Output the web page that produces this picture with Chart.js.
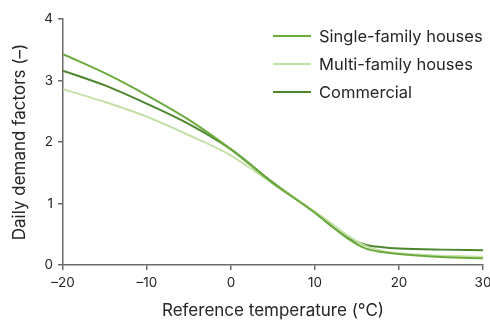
<!DOCTYPE html>
<html>
<head>
<meta charset="utf-8">
<script src="https://cdn.jsdelivr.net/npm/chart.js@4"></script>
<style>
  html, body { margin: 0; padding: 0; background: #fff; overflow: hidden; }
  #wrap { width: 490px; height: 322px; }
</style>
</head>
<body>
<div id="wrap"><canvas id="chart"></canvas></div>
<script>
'use strict';

// reference temperature (°C)
const temps = [-20, -15, -10, -5, 0, 5, 10, 12, 14, 16, 18, 20, 25, 30];

// daily demand factors
const singleFamily = [3.43, 3.12, 2.76, 2.36, 1.88, 1.33, 0.85, 0.63, 0.42, 0.27, 0.21, 0.18, 0.13, 0.11];
const multiFamily = [2.86, 2.65, 2.41, 2.11, 1.78, 1.32, 0.87, 0.67, 0.47, 0.31, 0.23, 0.19, 0.15, 0.135];
const commercial = [3.16, 2.92, 2.62, 2.29, 1.88, 1.34, 0.85, 0.63, 0.44, 0.33, 0.29, 0.27, 0.25, 0.24];

const seriesNames = ['Single-family houses', 'Multi-family houses', 'Commercial'];
const xTicks = [-20, -10, 0, 10, 20, 30];
const yTicks = [0, 1, 2, 3, 4];

const colors = ['rgb(108,172,62)', 'rgb(196,225,168)', 'rgb(76,134,46)'];
const textColor = '#262626';
const axisColor = '#6b6b6b';
const fontFamily = 'Inter, "Noto Sans", sans-serif';

function points(ys) {
  return temps.map((t, i) => ({ x: t, y: ys[i] }));
}

function dash(v) {
  return String(v).replace('-', '\u2013');
}

// legend drawn by hand: line sample + label, stacked in the top right
const legendPlugin = {
  id: 'sideLegend',
  afterDraw(chart) {
    const ctx = chart.ctx;
    ctx.save();
    ctx.font = '16.5px ' + fontFamily;
    ctx.textBaseline = 'middle';
    ctx.fillStyle = textColor;
    chart.data.datasets.forEach((ds, i) => {
      const y = 36 + i * 28;
      ctx.strokeStyle = ds.borderColor;
      ctx.lineWidth = 2;
      ctx.beginPath();
      ctx.moveTo(273, y);
      ctx.lineTo(311, y);
      ctx.stroke();
      ctx.fillText(ds.label, 319, y + 1);
    });
    ctx.restore();
  }
};

const ctx = document.getElementById('chart').getContext('2d');

const chart = new Chart(ctx, {
  type: 'line',
  data: {
    datasets: [
      { label: seriesNames[0], data: points(singleFamily), borderColor: colors[0] },
      { label: seriesNames[1], data: points(multiFamily), borderColor: colors[1] },
      { label: seriesNames[2], data: points(commercial), borderColor: colors[2] },
    ].map(ds => Object.assign(ds, {
      borderWidth: 2,
      pointRadius: 0,
      fill: false,
      cubicInterpolationMode: 'monotone',
    })),
  },
  options: {
    responsive: true,
    maintainAspectRatio: false,
    animation: false,
    layout: { padding: { top: 19, right: 7, left: 0, bottom: 0 } },
    plugins: {
      legend: { display: false },
      tooltip: { enabled: false },
    },
    scales: {
      x: {
        type: 'linear',
        min: -20,
        max: 30,
        afterBuildTicks: s => { s.ticks = xTicks.map(v => ({ value: v })); },
        afterFit: s => { s.height = 57; s.paddingLeft = 0; s.paddingRight = 0; },
        border: { display: true, color: axisColor, width: 1.5 },
        grid: { drawOnChartArea: false, drawTicks: true, tickLength: 5, color: axisColor, lineWidth: 1.5 },
        ticks: {
          padding: 5,
          maxRotation: 0,
          color: textColor,
          font: { family: fontFamily, size: 13.5 },
          callback: v => dash(v),
        },
        title: {
          display: true,
          text: 'Reference temperature (°C)',
          color: textColor,
          font: { family: fontFamily, size: 17 },
          padding: { top: 0, bottom: 1 },
        },
      },
      y: {
        min: 0,
        max: 4,
        afterBuildTicks: s => { s.ticks = yTicks.map(v => ({ value: v })); },
        afterFit: s => { s.width = 63; s.paddingTop = 0; s.paddingBottom = 0; },
        border: { display: true, color: axisColor, width: 1.5 },
        grid: { drawOnChartArea: false, drawTicks: true, tickLength: 5, color: axisColor, lineWidth: 1.5 },
        ticks: {
          padding: 5,
          color: textColor,
          font: { family: fontFamily, size: 13.5 },
        },
        title: {
          display: true,
          text: 'Daily demand factors (\u2013)',
          color: textColor,
          font: { family: fontFamily, size: 17 },
          padding: { top: 10, bottom: 0 },
        },
      },
    },
  },
  plugins: [legendPlugin],
});
</script>
</body>
</html>
